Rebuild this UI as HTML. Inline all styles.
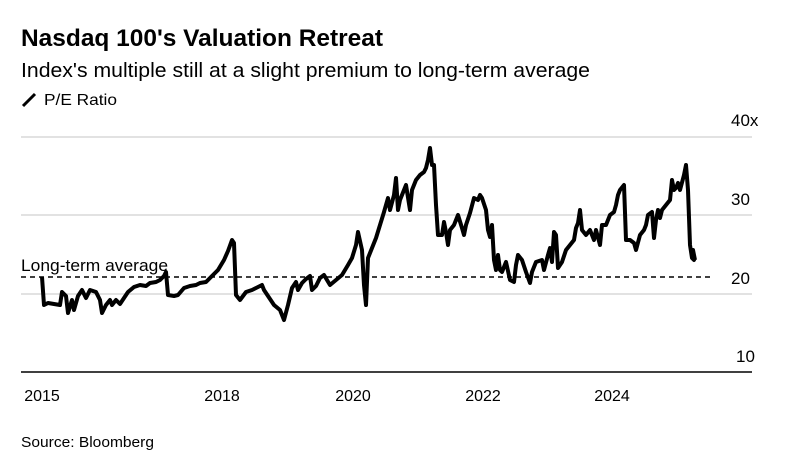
<!DOCTYPE html>
<html><head><meta charset="utf-8"><style>
body{margin:0;background:#fff;width:785px;height:461px;overflow:hidden;font-family:"Liberation Sans",Arial,sans-serif;color:#000}
</style></head><body>
<svg width="785" height="461" xmlns="http://www.w3.org/2000/svg" font-family="Liberation Sans, Arial, sans-serif">
<text x="21" y="46" font-size="24" font-weight="bold" textLength="362" lengthAdjust="spacingAndGlyphs">Nasdaq 100's Valuation Retreat</text>
<text x="21" y="77" font-size="20" textLength="569" lengthAdjust="spacingAndGlyphs">Index's multiple still at a slight premium to long-term average</text>
<line x1="23" y1="106" x2="35" y2="94" stroke="#000" stroke-width="3"/>
<text x="44" y="105" font-size="16" textLength="73" lengthAdjust="spacingAndGlyphs">P/E Ratio</text>
<g stroke="#d9d9d9" stroke-width="1.5">
<line x1="21" y1="137" x2="752" y2="137"/>
<line x1="21" y1="215" x2="752" y2="215"/>
<line x1="21" y1="294" x2="752" y2="294"/>
</g>
<line x1="21" y1="372" x2="752" y2="372" stroke="#000" stroke-width="1.5"/>
<g font-size="17" fill="#000">
<text x="731" y="126">40x</text>
<text x="731" y="205">30</text>
<text x="731" y="284">20</text>
<text x="736" y="362">10</text>
</g>
<g font-size="16" text-anchor="middle">
<text x="42" y="401">2015</text>
<text x="222" y="401">2018</text>
<text x="353" y="401">2020</text>
<text x="483" y="401">2022</text>
<text x="612" y="401">2024</text>
</g>
<line x1="21" y1="277" x2="713" y2="277" stroke="#000" stroke-width="1.5" stroke-dasharray="5,4"/>
<text x="21" y="271" font-size="17" textLength="147" lengthAdjust="spacingAndGlyphs">Long-term average</text>
<polyline fill="none" stroke="#000" stroke-width="4" stroke-linejoin="round" points="42,277 44,305 48,303 60,305 62,292 66,296 68,313 72,300 74,310 78,296 82,290 86,298 90,290 96,292 100,300 102,313 106,305 110,300 112,305 116,300 120,304 124,298 128,292 134,287 140,285 146,286 150,283 156,282 160,280 164,276 166,272 168,295 174,296 178,295 184,288 190,286 196,285 200,283 206,282 212,276 218,270 224,260 228,251 232,240 234,243 236,295 240,300 246,292 252,290 256,288 262,285 264,290 268,296 274,305 280,310 284,320 288,305 292,288 296,282 298,290 302,283 306,279 310,276 312,290 316,286 320,278 324,275 330,285 336,280 342,275 348,265 352,258 356,245 358,232 362,250 364,285 366,305 368,258 372,248 376,238 380,225 384,212 388,198 390,210 394,195 396,178 398,210 400,200 404,190 406,185 410,210 412,190 416,180 420,175 424,172 426,168 428,160 430,148 432,165 434,165 436,205 438,235 442,235 444,222 446,232 448,245 450,230 454,225 458,215 462,228 464,235 466,225 470,213 474,198 478,200 480,195 482,198 486,210 488,230 490,237 492,225 494,260 496,270 498,255 500,270 502,272 506,262 510,280 514,282 516,265 518,255 522,260 526,272 530,283 532,272 536,262 542,260 544,270 548,255 550,248 552,262 554,232 556,235 558,268 562,262 566,250 570,245 574,240 576,228 578,223 580,210 582,230 586,235 590,230 594,240 596,230 600,245 602,225 606,225 610,215 614,212 616,205 618,195 620,190 624,185 626,240 630,240 634,243 636,250 640,235 644,230 646,225 648,215 652,212 654,238 656,220 658,210 660,218 662,210 666,205 670,200 672,180 674,190 676,188 678,183 680,190 684,175 686,165 688,190 690,245 692,258 694,260 693,250 695,260"/>
<text x="21" y="447" font-size="15" textLength="133" lengthAdjust="spacingAndGlyphs">Source: Bloomberg</text>
</svg>
</body></html>
